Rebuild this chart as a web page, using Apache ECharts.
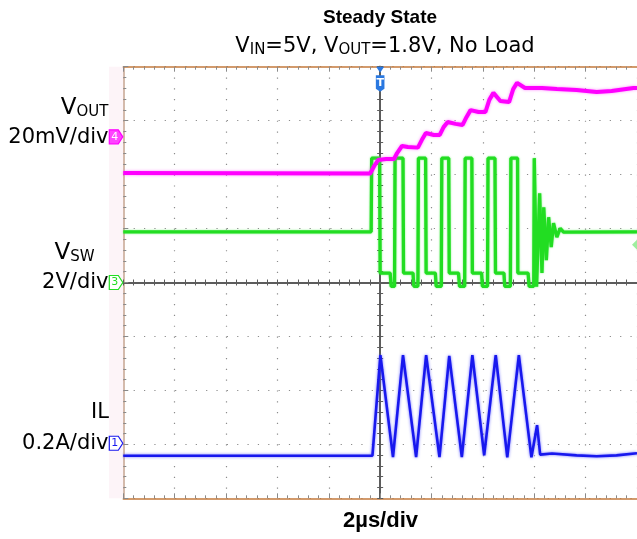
<!DOCTYPE html>
<html>
<head>
<meta charset="utf-8">
<title>Steady State</title>
<script src="https://cdn.jsdelivr.net/npm/echarts@6/dist/echarts.min.js"></script>
<style>
  html, body { margin: 0; padding: 0; background: #fff; }
  #chart { width: 637px; height: 539px; }
</style>
</head>
<body>
<div id="chart"></div>
<script>
// time in µs (2µs/div), trigger at 0
var vOutTime = [-10, -0.39, -0.23, -0.08, 0.23, 0.54, 0.66, 0.85, 1.08, 1.47, 1.62, 1.78, 2.09, 2.32, 2.47, 2.63, 2.94, 3.21, 3.36, 3.52, 3.83, 4.10, 4.25, 4.41, 4.68, 5.02, 5.18, 5.33, 5.64, 6.30, 6.88, 7.65, 8.43, 9.01, 9.86, 10];
// VOUT ripple, mV (AC)
var vOutMv = [-13.4, -13.6, -10.8, -8.6, -8.2, -8.2, -6.0, -3.4, -3.8, -4.0, -1.2, 1.4, 0.7, 0.7, 3.6, 5.5, 4.8, 4.4, 7.3, 9.9, 9.2, 9.2, 13.7, 16.3, 13.3, 12.9, 17.7, 20.0, 18.1, 18.1, 17.7, 17.4, 16.6, 17.0, 18.1, 18.1];

var vswTime = [-10, -0.35, -0.33, -0.02,
  0, 0.39, 0.43, 0.56, 0.58, 0.89,
  0.91, 1.28, 1.31, 1.47, 1.49, 1.77,
  1.79, 2.15, 2.18, 2.38, 2.40, 2.67,
  2.69, 3.05, 3.09, 3.29, 3.31, 3.57,
  3.59, 3.95, 3.98, 4.18, 4.20, 4.47,
  4.49, 4.82, 4.85, 5.07, 5.09, 5.35,
  5.36, 5.76, 5.80, 5.98, 6.00, 6.07,
  6.09, 6.21, 6.30, 6.37, 6.47, 6.56, 6.66, 6.75, 6.88, 7.01, 7.14, 10];
// switch node, V
var vswV = [1.88, 1.88, 4.61, 4.61,
  0.35, 0.35, -0.14, -0.14, 4.61, 4.61,
  0.35, 0.35, -0.14, -0.14, 4.61, 4.61,
  0.35, 0.35, -0.14, -0.14, 4.61, 4.61,
  0.35, 0.35, -0.14, -0.14, 4.61, 4.61,
  0.35, 0.35, -0.14, -0.14, 4.61, 4.61,
  0.35, 0.35, -0.14, -0.14, 4.61, 4.61,
  0.35, 0.35, -0.14, -0.14, 4.61, 4.61,
  -0.16, 3.31, 0.35, 2.79, 0.83, 2.42, 1.31, 2.20, 1.68, 2.01, 1.87, 1.88];

var ilTime = [-10, -0.30, 0.01, 0.50, 0.89, 1.40, 1.79, 2.31, 2.69, 3.18, 3.59, 4.05, 4.50, 4.95, 5.40, 5.89, 6.11, 6.23, 6.69, 7.65, 8.43, 9.20, 10];
// inductor current, A
var ilA = [-0.046, -0.046, 0.327, -0.051, 0.327, -0.051, 0.327, -0.051, 0.324, -0.051, 0.327, -0.045, 0.327, -0.052, 0.327, -0.052, 0.067, -0.042, -0.038, -0.045, -0.048, -0.045, -0.037];

// scope channels: 0 = VOUT (ch4), 1 = VSW (ch3), 2 = IL (ch1)
var chPerDiv = [20, 2, 0.2];
var chOffset = [2.70, 0, -2.98];   // ground marker, divisions from centre
var chLabel = ['4', '3', '1'];
var chColor = ['#ff00ff', '#22dd22', '#1818ee'];
var trigLevel = 1.4;               // V, on VSW

var FONT = 'DejaVu Sans';
var ARIAL = 'Liberation Sans';

function toDiv(times, values, ch) {
  return times.map(function (t, i) {
    return [t, values[i] / chPerDiv[ch] + chOffset[ch]];
  });
}

var chart = echarts.init(document.getElementById('chart'));

var gridBox = { left: 123.3, top: 66.7, width: 517.4, height: 431.6 };

function edgeX(pos, split) {
  return {
    gridIndex: 0, type: 'value', position: pos, min: -10, max: 10, interval: 2,
    axisLine: { onZero: false, lineStyle: { color: '#c47a3c', width: 1.5 } },
    axisTick: { inside: true, length: 5, lineStyle: { color: '#8a8a8a' } },
    minorTick: { show: true, splitNumber: 5, length: 3, lineStyle: { color: '#8a8a8a' } },
    axisLabel: { show: false },
    splitLine: { show: split, lineStyle: { color: '#8c8c8c', width: 1.2, type: [1.2, 9.59] } }
  };
}
function centreX(pos) {
  return {
    gridIndex: 1, type: 'value', position: pos, min: -10, max: 10, interval: 2,
    axisLine: { onZero: true, lineStyle: { color: '#5c5c5c', width: 2 } },
    axisTick: { inside: true, length: 3, lineStyle: { color: '#5c5c5c' } },
    minorTick: { show: true, splitNumber: 5, length: 3, lineStyle: { color: '#5c5c5c' } },
    axisLabel: { show: false },
    splitLine: { show: false }
  };
}
function centreY(pos) {
  return {
    gridIndex: 1, type: 'value', position: pos, min: -4, max: 4, interval: 1,
    axisLine: { onZero: true, lineStyle: { color: '#5c5c5c', width: 2 } },
    axisTick: { inside: true, length: 3, lineStyle: { color: '#5c5c5c' } },
    minorTick: { show: true, splitNumber: 5, length: 3, lineStyle: { color: '#5c5c5c' } },
    axisLabel: { show: false },
    splitLine: { show: false }
  };
}

function label(text, x, y, align, size, bold, family) {
  var fam = family || FONT;
  return {
    text: text, left: x, top: y, textAlign: align, textVerticalAlign: 'middle', padding: 0,
    textStyle: {
      fontFamily: fam, fontSize: size, fontWeight: bold ? 'bold' : 'normal', color: '#000',
      rich: {
        m: { fontFamily: fam, fontSize: size, lineHeight: size + 2, verticalAlign: 'bottom', color: '#000' },
        s: { fontFamily: fam, fontSize: 15, lineHeight: 15, verticalAlign: 'bottom', color: '#000' },
        b: { fontFamily: fam, fontSize: 23, lineHeight: 25, verticalAlign: 'bottom', color: '#000' },
        t: { fontFamily: fam, fontSize: 15, lineHeight: 15, verticalAlign: 'bottom', color: '#000' }
      }
    }
  };
}

var option = {
  backgroundColor: '#fff',
  animation: false,
  title: [
    label('Steady State', 380, 18, 'center', 19, true, ARIAL),
    label('{m|V}{s|IN}{m|=5V, V}{s|OUT}{m|=1.8V, No Load}', 385, 46, 'center', 21, false),
    label('2µs/div', 380.5, 521, 'center', 22, true, ARIAL),
    label('{b|V}{t|OUT}', 108.5, 107, 'right', 21, false),
    label('20mV/div', 108.5, 137.5, 'right', 21, false),
    label('{b|V}{t|SW}', 94.5, 252, 'right', 21, false),
    label('2V/div', 108.5, 282.5, 'right', 21, false),
    label('IL', 109, 412.5, 'right', 21, false),
    label('0.2A/div', 108.5, 444, 'right', 21, false)
  ],
  grid: [
    Object.assign({}, gridBox),
    Object.assign({}, gridBox)
  ],
  xAxis: [edgeX('bottom', true), edgeX('top', false), centreX('bottom'), centreX('top')],
  yAxis: [
    {
      gridIndex: 0, type: 'value', position: 'left', min: -4, max: 4, interval: 1,
      axisLine: { onZero: false, lineStyle: { color: '#c6a590', width: 1.5 } },
      axisTick: { inside: true, length: 5, lineStyle: { color: '#8a8a8a' } },
      minorTick: { show: true, splitNumber: 5, length: 3, lineStyle: { color: '#8a8a8a' } },
      axisLabel: { show: false },
      splitLine: { show: true, lineStyle: { color: '#8c8c8c', width: 1.2, type: [1.2, 9.15] } }
    },
    centreY('left'),
    centreY('right')
  ],
  series: [
    {
      name: 'VSW', type: 'line', xAxisIndex: 0, yAxisIndex: 0, showSymbol: false, z: 3,
      lineStyle: { color: chColor[1], width: 3.3, shadowColor: 'rgba(40,230,40,0.6)', shadowBlur: 2 },
      data: toDiv(vswTime, vswV, 1)
    },
    {
      name: 'IL', type: 'line', xAxisIndex: 0, yAxisIndex: 0, showSymbol: false, z: 4,
      lineStyle: { color: chColor[2], width: 2.6, shadowColor: 'rgba(70,70,255,0.75)', shadowBlur: 3 },
      data: toDiv(ilTime, ilA, 2)
    },
    {
      name: 'VOUT', type: 'line', xAxisIndex: 0, yAxisIndex: 0, showSymbol: false, z: 5,
      lineStyle: { color: chColor[0], width: 4, shadowColor: 'rgba(255,60,255,0.6)', shadowBlur: 3 },
      data: toDiv(vOutTime, vOutMv, 0)
    }
  ]
};
chart.setOption(option);

// scope decorations: left strip, channel ground markers, trigger markers
var deco = [];
var p0 = chart.convertToPixel({ xAxisIndex: 0, yAxisIndex: 0 }, [-10, 4]);
var p1 = chart.convertToPixel({ xAxisIndex: 0, yAxisIndex: 0 }, [10, -4]);
deco.push({
  type: 'rect', z: 0, silent: true,
  shape: { x: p0[0] - 14.3, y: p0[1], width: 14.3, height: p1[1] - p0[1] },
  style: { fill: '#fdf4f8' }
});
for (var c = 0; c < 3; c++) {
  var py = chart.convertToPixel({ xAxisIndex: 0, yAxisIndex: 0 }, [-10, chOffset[c]])[1];
  var lx = p0[0] - 14;
  var filled = c === 0;
  deco.push({
    type: 'polygon', z: 10,
    shape: { points: [[lx, py - 7], [lx + 9, py - 7], [lx + 13.5, py], [lx + 9, py + 7], [lx, py + 7]] },
    style: { fill: filled ? '#ff44ff' : '#ffffff', stroke: chColor[c], lineWidth: 1.2 }
  });
  deco.push({
    type: 'text', z: 11, x: lx + 5.5, y: py,
    style: { text: chLabel[c], font: '11px ' + FONT, fill: filled ? '#ffffff' : chColor[c], textAlign: 'center', textVerticalAlign: 'middle' }
  });
}
var tx = chart.convertToPixel({ xAxisIndex: 0, yAxisIndex: 0 }, [0, 4]);
deco.push({
  type: 'polygon', z: 10,
  shape: { points: [[tx[0] - 4, tx[1]], [tx[0] + 4, tx[1]], [tx[0], tx[1] + 6]] },
  style: { fill: '#2a78e0' }
});
deco.push({
  type: 'polygon', z: 10,
  shape: { points: [[tx[0] - 4.3, tx[1] + 8.5], [tx[0] + 4.3, tx[1] + 8.5], [tx[0] + 4.3, tx[1] + 22], [tx[0], tx[1] + 25], [tx[0] - 4.3, tx[1] + 22]] },
  style: { fill: '#2a78e0' }
});
deco.push({
  type: 'text', z: 11, x: tx[0], y: tx[1] + 16,
  style: { text: 'T', font: 'bold 11px ' + FONT, fill: '#ffffff', textAlign: 'center', textVerticalAlign: 'middle' }
});
var lv = chart.convertToPixel({ xAxisIndex: 0, yAxisIndex: 0 }, [10, trigLevel / chPerDiv[1] + chOffset[1]]);
deco.push({
  type: 'polygon', z: 10,
  shape: { points: [[632, lv[1]], [637, lv[1] - 5], [637, lv[1] + 5]] },
  style: { fill: '#9fee9f' }
});
chart.setOption({ graphic: deco });
</script>
</body>
</html>
